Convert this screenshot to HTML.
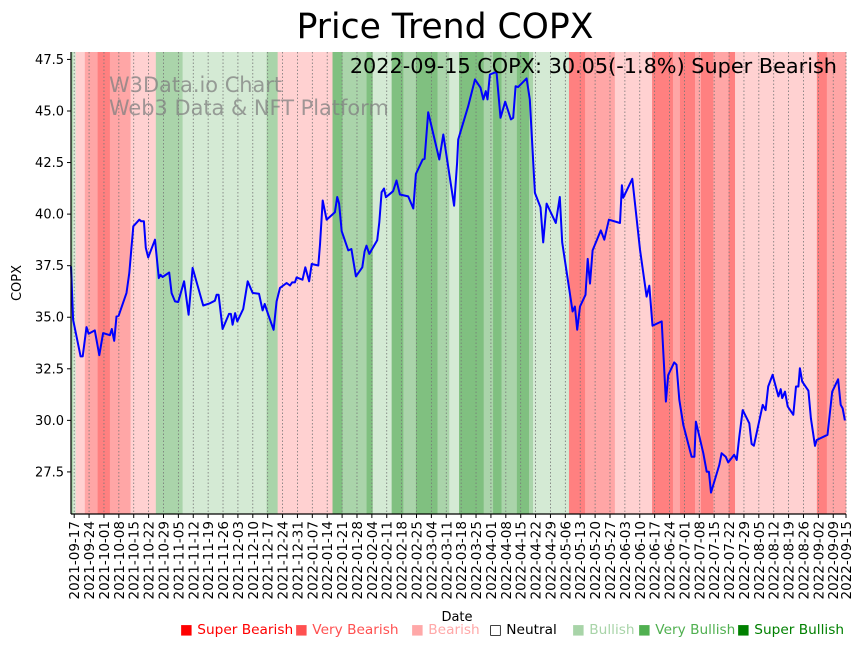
<!DOCTYPE html>
<html><head><meta charset="utf-8"><style>
body{margin:0;background:#fff;}
svg{display:block;font-family:"DejaVu Sans","Liberation Sans",sans-serif;}
</style></head><body>
<svg id="chart" width="864" height="646" viewBox="0 0 864 646" xmlns="http://www.w3.org/2000/svg">
<text x="445" y="38" font-size="34.6" text-anchor="middle" fill="#000">Price Trend COPX</text>
<g id="bands"></g>
<g id="grid"></g>
<text x="109" y="92" font-size="20.9" fill="#808080" fill-opacity="0.75">W3Data.io Chart</text>
<text x="109" y="115" font-size="20.9" fill="#808080" fill-opacity="0.75">Web3 Data &amp; NFT Platform</text>
<g id="line"></g>
<text x="837" y="73" font-size="20.8" text-anchor="end" fill="#000">2022-09-15 COPX: 30.05(-1.8%) Super Bearish</text>
<g id="axes"></g>
<text transform="translate(21,283) rotate(-90)" font-size="13" text-anchor="middle">COPX</text>
<text x="457" y="621" font-size="13" text-anchor="middle">Date</text>
<g font-size="13.7">
<text x="180" y="634" fill="#ff0000">■ Super Bearish</text>
<text x="295" y="634" fill="#ff5050">■ Very Bearish</text>
<text x="411" y="634" fill="#ffa8a8">■ Bearish</text>
<text x="489" y="634" fill="#000">□ Neutral</text>
<text x="572" y="634" fill="#a8d4a8">■ Bullish</text>
<text x="638" y="634" fill="#50b050">■ Very Bullish</text>
<text x="737" y="634" fill="#008000">■ Super Bullish</text>
</g>
</svg>
<script>
// days since 2021-09-17
const priceDays=[-1.5,-0.5,3,4,5.8,6.8,9.7,11.8,13.6,16.8,17.7,18.8,19.9,20.9,24.6,25.9,27.8,30.6,31.5,32.8,33.7,34.8,38,39.8,40.6,41.6,44.7,45.8,47.4,48.9,51.7,53.8,55.7,60.7,63.5,66.2,67,67.9,69.8,72.8,73.7,74.5,75.7,76.7,79.5,81.6,83.9,86.9,88.6,89.6,91.3,93.8,95.2,96.8,99.9,101.5,102.5,103.8,104.6,107.4,108.7,110.5,111.7,114.8,115.6,116.9,118.7,122.6,123.7,124.6,125.8,128.9,130.4,132.5,135.5,136.6,137.5,138.8,142.5,143.5,144.6,145.7,146.6,150,151.6,153.2,157.1,159.5,160.7,163.9,164.8,166.5,171.7,173.6,178.7,180.1,180.6,185.3,188.5,191.1,192.4,193.6,194.4,195.5,198.6,200.5,202.7,205.4,206.5,207.6,208.8,212.8,214.3,216.7,219.3,220.6,222.2,226.5,228.4,229.5,234.4,235.5,236.6,237.9,240.5,241.5,242.6,243.8,247.7,249.3,251.5,256.7,257.6,258.2,262.5,266.1,269.2,270.5,272,276.3,278.3,279.4,282.2,283.3,284.6,286.5,290.4,291.7,292.4,295.9,297.5,298.5,299.5,303.4,304.5,306.4,307.6,310.4,311.6,312.8,314.4,317.5,318.6,319.7,323.8,325.2,326.4,328.5,331.2,332.3,333,334.3,335.6,338.2,339.5,340.6,341.3,342.4,345.3,346.5,348.4,349.2,354.3,356.5,359.3,360.5,361.4,362.5];
const priceValues=[37.47,34.88,33.1,33.1,34.52,34.2,34.36,33.16,34.23,34.13,34.43,33.86,35.04,35.07,36.18,37.15,39.41,39.73,39.65,39.65,38.36,37.9,38.76,36.9,37.06,36.95,37.17,36.17,35.77,35.74,36.74,35.12,37.39,35.57,35.66,35.8,36.09,36.09,34.43,35.16,35.16,34.64,35.2,34.8,35.4,36.74,36.18,36.14,35.33,35.64,35.12,34.39,35.77,36.42,36.66,36.54,36.69,36.69,36.93,36.82,37.42,36.74,37.58,37.51,38.52,40.66,39.73,40.09,40.83,40.51,39.17,38.24,38.31,36.98,37.42,38.19,38.47,38.07,38.73,39.6,41.06,41.24,40.82,41.11,41.63,40.95,40.86,40.27,41.95,42.65,42.68,44.94,42.65,43.86,40.41,42.49,43.62,45.23,46.53,46.13,45.56,45.96,45.56,46.77,46.9,44.67,45.45,44.59,44.67,46.2,46.16,46.58,45.56,41.03,40.33,38.63,40.51,39.57,40.83,38.63,35.28,35.52,34.39,35.52,36.09,37.83,36.63,38.24,39.21,38.76,39.73,39.57,41.4,40.79,41.71,38.28,36.0,36.53,34.59,34.8,30.91,32.2,32.81,32.7,31.0,29.78,28.24,28.24,29.94,28.41,27.51,27.51,26.5,27.84,28.41,28.24,27.96,28.33,28.08,29.21,30.5,29.86,28.86,28.77,30.75,30.5,31.64,32.21,31.16,31.51,31.08,31.39,30.67,30.27,31.64,31.64,32.53,31.88,31.44,30.1,28.76,29.05,29.3,31.39,31.99,30.75,30.59,30.0];
// sentiment bands: start day, end day, level (-3..3)
const bandStarts=[-1.5,-0.6,0.7,5,11,16.8,26.5,38.4,51,90.5,95.7,121.5,126.2,137.5,140.4,149.3,154.8,160.7,170.9,176.4,181,192.6,197,201,208.2,213.9,215.8,232.7,240.3,254.3,271.8,281.6,284.9,292,294.8,300.6,307.8,310.8,349.3,354];
const bandEnds=[-0.6,0.7,5,11,16.8,26.5,38.4,51,90.5,95.7,121.5,126.2,137.5,140.4,149.3,154.8,160.7,170.9,176.4,181,192.6,197,201,208.2,213.9,215.8,232.7,240.3,254.3,271.8,281.6,284.9,292,294.8,300.6,307.8,310.8,349.3,354,363];
const bandLevels=[2,1,-1,-2,-3,-2,-1,2,1,2,-1,3,2,3,1,3,2,3,2,1,3,2,3,2,3,2,1,-3,-2,-1,-3,-2,-3,-2,-3,-2,-3,-1,-3,-2];
const yTicks=[27.5,30.0,32.5,35.0,37.5,40.0,42.5,45.0,47.5];
const xTickDays=[];const xTickLabels=[];
(function(){const b=Date.UTC(2021,8,17);for(let i=0;i<52;i++){xTickDays.push(i*7);}xTickDays.push(363);
for(const d of xTickDays){xTickLabels.push(new Date(b+d*864e5).toISOString().slice(0,10));}})();

const NS="http://www.w3.org/2000/svg";
const L=71,R=846,T=52,B=514;
const dMin=-1.5,dMax=363,vMin=25.46,vMax=47.86;
const xs=d=>L+(d-dMin)/(dMax-dMin)*(R-L);
const ys=v=>B-(v-vMin)/(vMax-vMin)*(B-T);
const colors={"-3":"#ff8080","-2":"#ffa6a6","-1":"#ffd1d1","0":"#ffffff","1":"#d4ead4","2":"#aad4aa","3":"#80c080"};
function mk(tag,attrs,parent){const e=document.createElementNS(NS,tag);for(const k in attrs)e.setAttribute(k,attrs[k]);parent.appendChild(e);return e;}
const gb=document.getElementById('bands');
bandStarts.forEach((s,i)=>{const r=mk('rect',{x:xs(s),y:T,width:Math.max(0,xs(bandEnds[i])-xs(s))+0.3,height:B-T,fill:colors[bandLevels[i]]},gb);

});
const gg=document.getElementById('grid');
const ga=document.getElementById('axes');
xTickDays.forEach((d,i)=>{const x=xs(d);
const gl=mk('line',{x1:x,x2:x,y1:T,y2:B,stroke:"#777",'stroke-width':0.8,'stroke-dasharray':'1.5,2'},gg);


mk('line',{x1:x,x2:x,y1:B,y2:B+4,stroke:"#000",'stroke-width':1},ga);
const t=mk('text',{transform:`translate(${x+5},${B+7}) rotate(-90)`,'font-size':13.5,'text-anchor':'end'},ga);
t.textContent=xTickLabels[i];

});
yTicks.forEach(v=>{const y=ys(v);
mk('line',{x1:L-4,x2:L,y1:y,y2:y,stroke:"#000",'stroke-width':1},ga);
const t=mk('text',{x:L-7,y:y+4.5,'font-size':13,'text-anchor':'end'},ga);
t.textContent=v.toFixed(1);

});
mk('line',{x1:L,x2:L,y1:T,y2:B,stroke:"#000",'stroke-width':1.2},ga);
mk('line',{x1:L,x2:R,y1:B,y2:B,stroke:"#000",'stroke-width':1.2},ga);
const pts=priceDays.map((d,i)=>xs(d).toFixed(1)+","+ys(priceValues[i]).toFixed(1)).join(" ");
const pl=mk('polyline',{points:pts,fill:"none",stroke:"#0000ff",'stroke-width':2,'stroke-linejoin':'round'},document.getElementById('line'));


</script>
</body></html>
